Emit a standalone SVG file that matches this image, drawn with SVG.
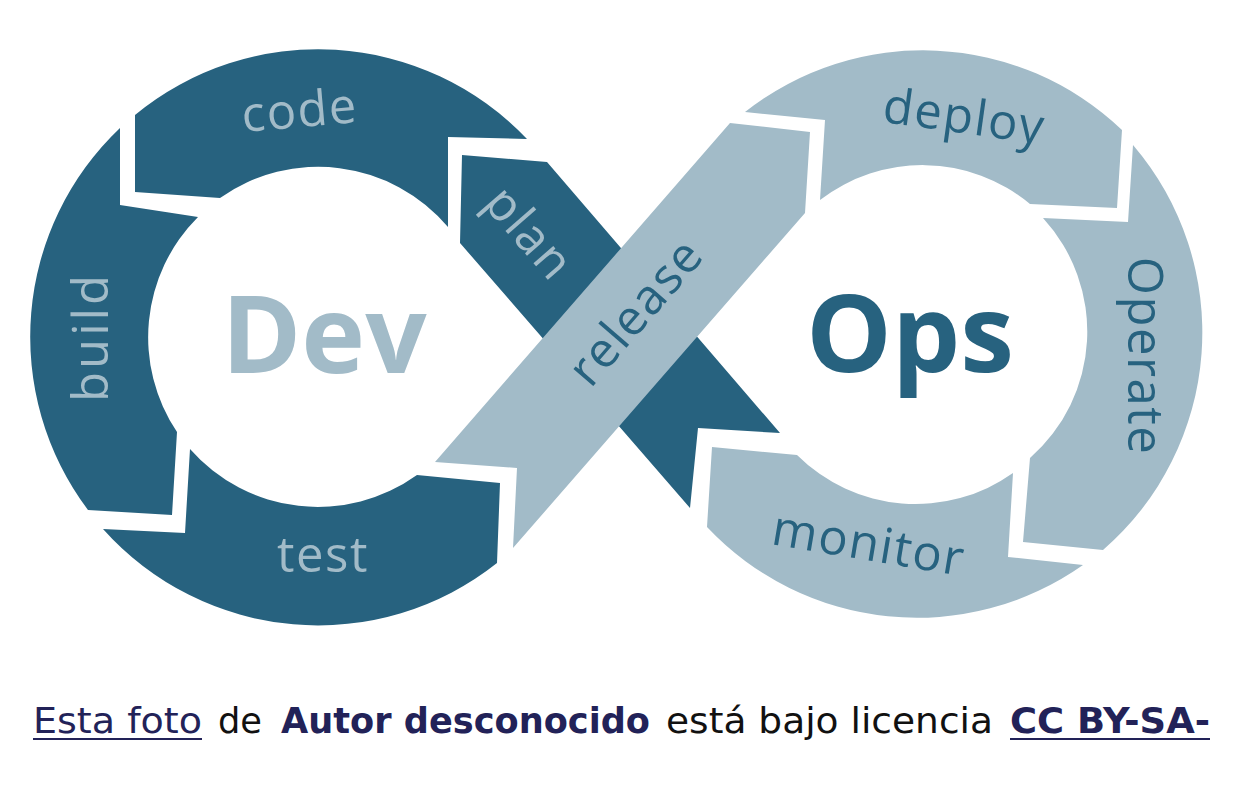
<svg xmlns="http://www.w3.org/2000/svg" width="1243" height="791" viewBox="0 0 1243 791">
<style>
.dark{fill:#27627F}
.light{fill:#A2BBC8}
.lbl{font-family:"Open Sans","Liberation Sans",sans-serif;font-size:49px;letter-spacing:1.5px;text-anchor:middle}
.big{font-family:"Open Sans","Liberation Sans",sans-serif;font-size:108px;font-weight:700;text-anchor:middle}
.tl{fill:#A2BBC8}
.td{fill:#27627F}
.cap{font-family:"DejaVu Sans","Liberation Sans",sans-serif;font-size:35px}
.nav{fill:#222258}
.blk{fill:#111111}
</style>
<rect width="1243" height="791" fill="#ffffff"/>
<g id="plan">
<path class="dark" d="M462,155 L547,162 L780,433 L698,428 L690,508 L460,243 Z"/>
<text class="lbl tl" transform="translate(528,234) rotate(49)" y="15">plan</text>
</g>
<g id="code">
<path class="dark" d="M527,139 A288,288 0 0 0 135,115 L135,192 L220,198 A170,170 0 0 1 448,227 L448,137 Z"/>
<text class="lbl tl" transform="translate(301,127) rotate(-5)">code</text>
</g>
<g id="build">
<path class="dark" d="M120,128 A288,288 0 0 0 88,510 L172,515 L177,432 A170,170 0 0 1 198,217 L120,205 Z"/>
<text class="lbl tl" transform="translate(108,337) rotate(-90)" style="letter-spacing:3px">build</text>
</g>
<g id="test">
<path class="dark" d="M103,529 L185,533 L190,449 A170,170 0 0 0 417,475 L500,483 L497,563 A288,288 0 0 1 103,529 Z"/>
<text class="lbl tl" x="323" y="572">test</text>
</g>
<g id="deploy">
<path class="light" d="M745,112 A288,288 0 0 1 1122,130 L1117,208 L1030,204 A168,168 0 0 0 820,200 L825,120 Z"/>
<text class="lbl td" transform="translate(962,133) rotate(8)">deploy</text>
</g>
<g id="operate">
<path class="light" d="M1133,145 A288,288 0 0 1 1103,550 L1023,542 L1030,458 A168,168 0 0 0 1043,218 L1128,222 Z"/>
<text class="lbl td" transform="translate(1128,356) rotate(90)">Operate</text>
</g>
<g id="monitor">
<path class="light" d="M1083,565 L1008,557 L1013,473 A168,168 0 0 1 797,455 L712,447 L707,527 A288,288 0 0 0 1083,565 Z"/>
<text class="lbl td" transform="translate(866,560) rotate(9.5)">monitor</text>
</g>
<g id="release">
<path class="light" d="M435,462 L730,123 L810,132 L805,213 L513,548 L517,468 Z"/>
<text class="lbl td" transform="translate(637,313) rotate(-49)" y="15">release</text>
</g>
<g id="dev">
<text class="big tl" x="324" y="373">Dev</text>
</g>
<g id="ops">
<text class="big td" x="910" y="372">Ops</text>
</g>
<g id="connectors"></g>
<g id="caption">
<text class="cap nav" x="33" y="733" textLength="169" lengthAdjust="spacingAndGlyphs">Esta foto</text>
<line x1="33" y1="739" x2="202" y2="739" stroke="#222258" stroke-width="2"/>
<text class="cap blk" x="218" y="733" textLength="44" lengthAdjust="spacingAndGlyphs">de</text>
<text class="cap nav" x="281" y="733" font-weight="700" textLength="369" lengthAdjust="spacingAndGlyphs">Autor desconocido</text>
<text class="cap blk" x="666" y="733" textLength="327" lengthAdjust="spacingAndGlyphs">está bajo licencia</text>
<text class="cap nav" x="1010" y="733" font-weight="700" textLength="200" lengthAdjust="spacingAndGlyphs">CC BY-SA-</text>
<line x1="1010" y1="739" x2="1210" y2="739" stroke="#222258" stroke-width="2"/>
</g>
</svg>
